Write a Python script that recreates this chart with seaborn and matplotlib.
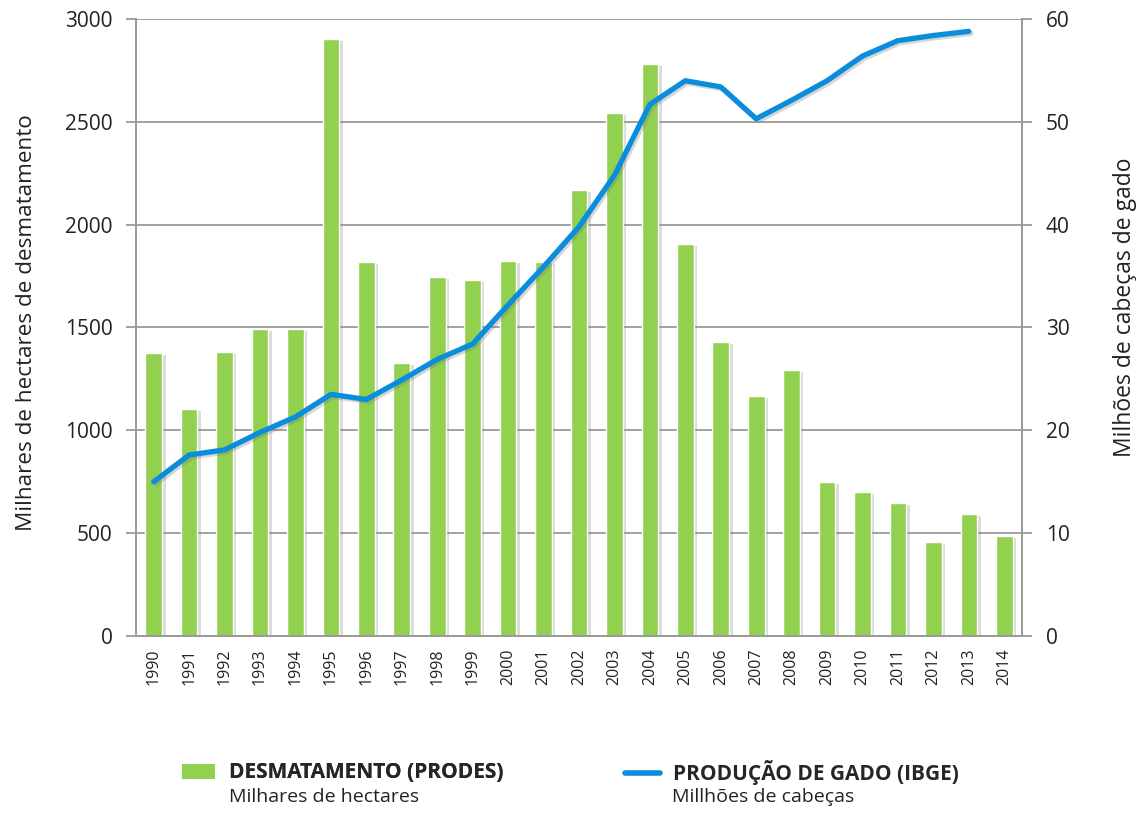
import numpy as np
import pandas as pd
import seaborn as sns
import matplotlib
matplotlib.use("Agg")
import matplotlib.pyplot as plt
import matplotlib.patheffects as pe
from matplotlib.lines import Line2D
from matplotlib.patches import Patch

# Dados
anos = [1990, 1991, 1992, 1993, 1994, 1995, 1996, 1997, 1998, 1999, 2000, 2001, 2002,
        2003, 2004, 2005, 2006, 2007, 2008, 2009, 2010, 2011, 2012, 2013, 2014]
desmatamento = [1375, 1105, 1382, 1493, 1493, 2905, 1817, 1326, 1747, 1730, 1825, 1817, 2170,
                2542, 2782, 1905, 1428, 1168, 1295, 749, 702, 647, 457, 592, 486]
anos_gado = anos[:24]
gado = [15.0, 17.6, 18.1, 19.8, 21.3, 23.5, 23.0, 24.9, 26.9, 28.4, 32.2, 35.9, 39.8,
        44.8, 51.7, 54.0, 53.4, 50.3, 52.1, 54.0, 56.4, 57.9, 58.4, 58.8]

VERDE = '#92d050'
AZUL = '#0a8ddc'
CINZA = '#9a9a9a'
TEXTO = '#222222'

df = pd.DataFrame({'ano': anos, 'desm': desmatamento})
dg = pd.DataFrame({'ano': anos_gado, 'gado': gado})

sns.set_style("white")
plt.rcParams['font.family'] = ['Open Sans', 'DejaVu Sans']

fig = plt.figure(figsize=(11.41, 8.17), dpi=100)
ax = fig.add_axes([0.1192, 0.2216, 0.7765, 0.7551])

# barras de desmatamento
sns.barplot(data=df, x='ano', y='desm', native_scale=True, width=0.47, color=VERDE,
            saturation=1, errorbar=None, ax=ax, zorder=2)
for p in ax.patches:
    p.set_path_effects([pe.SimplePatchShadow(offset=(2.5, -1.5), shadow_rgbFace='#888888', alpha=0.3),
                        pe.Normal()])

# linha do gado (eixo direito)
ax2 = ax.twinx()
sns.lineplot(data=dg, x='ano', y='gado', ax=ax2, color=AZUL, linewidth=3.8,
             solid_capstyle='round', solid_joinstyle='round')
ax2.lines[0].set_path_effects([pe.SimpleLineShadow(offset=(1.5, -1.5), shadow_color='#777777', alpha=0.3),
                               pe.Normal()])

ax.set_xlim(1989.5, 2014.5)
ax.set_ylim(0, 3000)
ax2.set_ylim(0, 60)
ax.set_yticks(range(0, 3001, 500))
ax2.set_yticks(range(0, 61, 10))
ax.yaxis.grid(True, color=CINZA, linewidth=1.3, zorder=0)
ax.set_axisbelow(True)

ax.set_xticks(anos)
ax.set_xticklabels([str(a) for a in anos], rotation=90, fontsize=11.5, color=TEXTO)
ax.set_xticks(np.arange(1989.5, 2015, 1), minor=True)
ax.tick_params(axis='x', which='major', length=0, pad=9)
ax.tick_params(axis='x', which='minor', length=7, color=CINZA, width=1.3, direction='out')
ax.tick_params(axis='y', length=7, color=CINZA, width=1.3, direction='out', labelsize=15,
               pad=10, labelcolor=TEXTO)
ax2.tick_params(axis='y', length=7, color=CINZA, width=1.3, direction='out', labelsize=15,
                pad=10, labelcolor=TEXTO)

for a in (ax, ax2):
    for s in a.spines.values():
        s.set_color(CINZA)
        s.set_linewidth(1.3)
    a.spines['top'].set_visible(False)

ax.set_xlabel('')
ax.set_ylabel('Milhares de hectares de desmatamento', fontsize=16.2, color=TEXTO)
ax.yaxis.set_label_coords(-0.1117, 0.508)
ax2.set_ylabel('Milhões de cabeças de gado', fontsize=16.5, color=TEXTO)
ax2.yaxis.set_label_coords(1.1027, 0.533)

# legenda em duas partes
leg1 = fig.legend([Patch(facecolor=VERDE, edgecolor='none')], ['DESMATAMENTO (PRODES)'],
                  loc='center left', bbox_to_anchor=(0.1595, 0.0539), frameon=False,
                  prop={'weight': 'bold', 'size': 15}, borderpad=0, borderaxespad=0,
                  handlelength=1.6, handleheight=0.75, handletextpad=0.65)
leg2 = fig.legend([Line2D([0], [0], color=AZUL, linewidth=4, solid_capstyle='round')],
                  ['PRODUÇÃO DE GADO (IBGE)'],
                  loc='center left', bbox_to_anchor=(0.5478, 0.0539), frameon=False,
                  prop={'weight': 'bold', 'size': 15}, borderpad=0, borderaxespad=0,
                  handlelength=1.7, handletextpad=0.6)
fig.add_artist(leg1)
fig.text(0.2007, 0.0245, 'Milhares de hectares', fontsize=14, color=TEXTO, va='center')
fig.text(0.589, 0.0245, 'Millhões de cabeças', fontsize=14, color=TEXTO, va='center')

fig.savefig('out.png', dpi=100)
